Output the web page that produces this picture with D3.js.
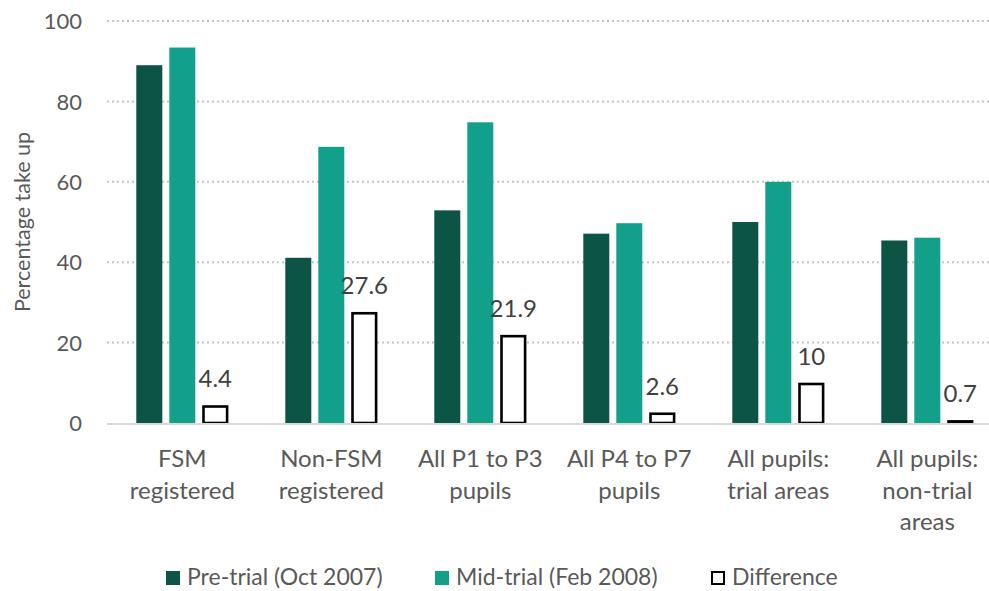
<!DOCTYPE html>
<html>
<head>
<meta charset="utf-8">
<script src="https://cdn.jsdelivr.net/npm/d3@7"></script>
<style>
  body { margin: 0; background: #fff; }
  text { font-family: Lato, "Noto Sans", sans-serif; }
</style>
</head>
<body>
<div id="plot"></div>
<script>
// categories (each split into label lines)
const categories = ["FSM registered", "Non-FSM registered", "All P1 to P3 pupils",
  "All P4 to P7 pupils", "All pupils: trial areas", "All pupils: non-trial areas"];
const categoryLines = [
  ["FSM", "registered"],
  ["Non-FSM", "registered"],
  ["All P1 to P3", "pupils"],
  ["All P4 to P7", "pupils"],
  ["All pupils:", "trial areas"],
  ["All pupils:", "non-trial", "areas"]
];

// series
const seriesNames = ["Pre-trial (Oct 2007)", "Mid-trial (Feb 2008)", "Difference"];
const preTrial = [89.0, 41.1, 52.9, 47.1, 50.0, 45.4];
const midTrial = [93.4, 68.7, 74.8, 49.7, 60.0, 46.1];
const difference = [4.4, 27.6, 21.9, 2.6, 10, 0.7];

const yTicks = [0, 20, 40, 60, 80, 100];

const width = 989;
const height = 591;

const svg = d3.select("#plot").append("svg")
  .attr("width", width)
  .attr("height", height)
  .style("background-color", "white");

// scales
const x0 = d3.scaleBand()
  .domain(categories)
  .range([107.8, 1001.8])
  .padding(0);

const groupW = 92;
const x1 = d3.scaleBand()
  .domain(seriesNames)
  .range([(x0.bandwidth() - groupW) / 2, (x0.bandwidth() + groupW) / 2])
  .paddingInner(7 / 33)
  .paddingOuter(0);

const y = d3.scaleLinear()
  .domain([0, 100])
  .range([423, 21]);

const colors = { "Pre-trial (Oct 2007)": "#0b5446", "Mid-trial (Feb 2008)": "#13a08b" };

// gridlines
svg.append("g")
  .selectAll("line")
  .data(yTicks.filter(d => d > 0))
  .enter()
  .append("line")
  .attr("x1", 107)
  .attr("x2", width)
  .attr("y1", d => y(d))
  .attr("y2", d => y(d))
  .attr("stroke", "#c4c4c4")
  .attr("stroke-width", 2)
  .attr("stroke-dasharray", "2,3");

// y axis labels
const yAxis = d3.axisLeft(y).tickValues(yTicks).tickSize(0).tickPadding(0);
const yAxisGroup = svg.append("g")
  .attr("transform", "translate(82,0)")
  .call(yAxis);
yAxisGroup.select(".domain").remove();
yAxisGroup.selectAll("text")
  .attr("fill", "#595959")
  .style("font-size", "22px")
  .attr("dy", "0.35em");

// y title
svg.append("text")
  .attr("transform", "translate(30,222) rotate(-90)")
  .attr("text-anchor", "middle")
  .attr("fill", "#595959")
  .style("font-size", "21.5px")
  .text("Percentage take up");

// bars
const rows = categories.map((c, i) => ({
  cat: c,
  vals: [
    { key: seriesNames[0], v: preTrial[i] },
    { key: seriesNames[1], v: midTrial[i] },
    { key: seriesNames[2], v: difference[i] }
  ]
}));

const groups = svg.append("g")
  .selectAll("g")
  .data(rows)
  .enter()
  .append("g")
  .attr("transform", d => `translate(${x0(d.cat)},0)`);

groups.selectAll("rect")
  .data(d => d.vals)
  .enter()
  .append("rect")
  .attr("x", d => d.key === "Difference" ? x1(d.key) + 1.2 : x1(d.key))
  .attr("width", d => d.key === "Difference" ? x1.bandwidth() - 2.4 : x1.bandwidth())
  .attr("y", d => y(d.v) + (d.key === "Difference" ? 1.2 : 0))
  .attr("height", d => y(0) - y(d.v) - (d.key === "Difference" ? 1.2 : 0))
  .attr("fill", d => d.key === "Difference" ? "#ffffff" : colors[d.key])
  .attr("stroke", d => d.key === "Difference" ? "#000000" : "none")
  .attr("stroke-width", 2.6);

// data labels on difference bars
groups.append("text")
  .attr("x", x1("Difference") + x1.bandwidth() / 2)
  .attr("y", d => y(d.vals[2].v) - 18)
  .attr("text-anchor", "middle")
  .attr("fill", "#404040")
  .style("font-size", "24px")
  .text(d => d.vals[2].v);

// baseline
svg.append("line")
  .attr("x1", 107)
  .attr("x2", width)
  .attr("y1", y(0) + 1)
  .attr("y2", y(0) + 1)
  .attr("stroke", "#d9d9d9")
  .attr("stroke-width", 2);

// x axis category labels
const xAxis = d3.axisBottom(x0).tickSize(0).tickFormat("");
const xAxisGroup = svg.append("g")
  .attr("transform", `translate(0,${y(0)})`)
  .call(xAxis);
xAxisGroup.select(".domain").remove();

xAxisGroup.selectAll(".tick")
  .append("text")
  .attr("text-anchor", "middle")
  .attr("fill", "#595959")
  .style("font-size", "24px")
  .selectAll("tspan")
  .data((d, i) => categoryLines[i])
  .enter()
  .append("tspan")
  .attr("x", 0)
  .attr("y", (d, i) => 44 + i * 31.5)
  .text(d => d);

// legend
const legendItems = [
  { name: seriesNames[0], x: 166 },
  { name: seriesNames[1], x: 435 },
  { name: seriesNames[2], x: 711 }
];
const legend = svg.append("g");
legend.selectAll("rect")
  .data(legendItems)
  .enter()
  .append("rect")
  .attr("x", d => d.name === "Difference" ? d.x + 1 : d.x)
  .attr("y", d => d.name === "Difference" ? 572 : 571)
  .attr("width", d => d.name === "Difference" ? 12 : 14)
  .attr("height", d => d.name === "Difference" ? 12 : 14)
  .attr("fill", d => d.name === "Difference" ? "#fff" : colors[d.name])
  .attr("stroke", d => d.name === "Difference" ? "#000" : "none")
  .attr("stroke-width", 2);
legend.selectAll("text")
  .data(legendItems)
  .enter()
  .append("text")
  .attr("x", d => d.x + 21)
  .attr("y", 585)
  .attr("fill", "#595959")
  .style("font-size", "23px")
  .text(d => d.name);
</script>
</body>
</html>
